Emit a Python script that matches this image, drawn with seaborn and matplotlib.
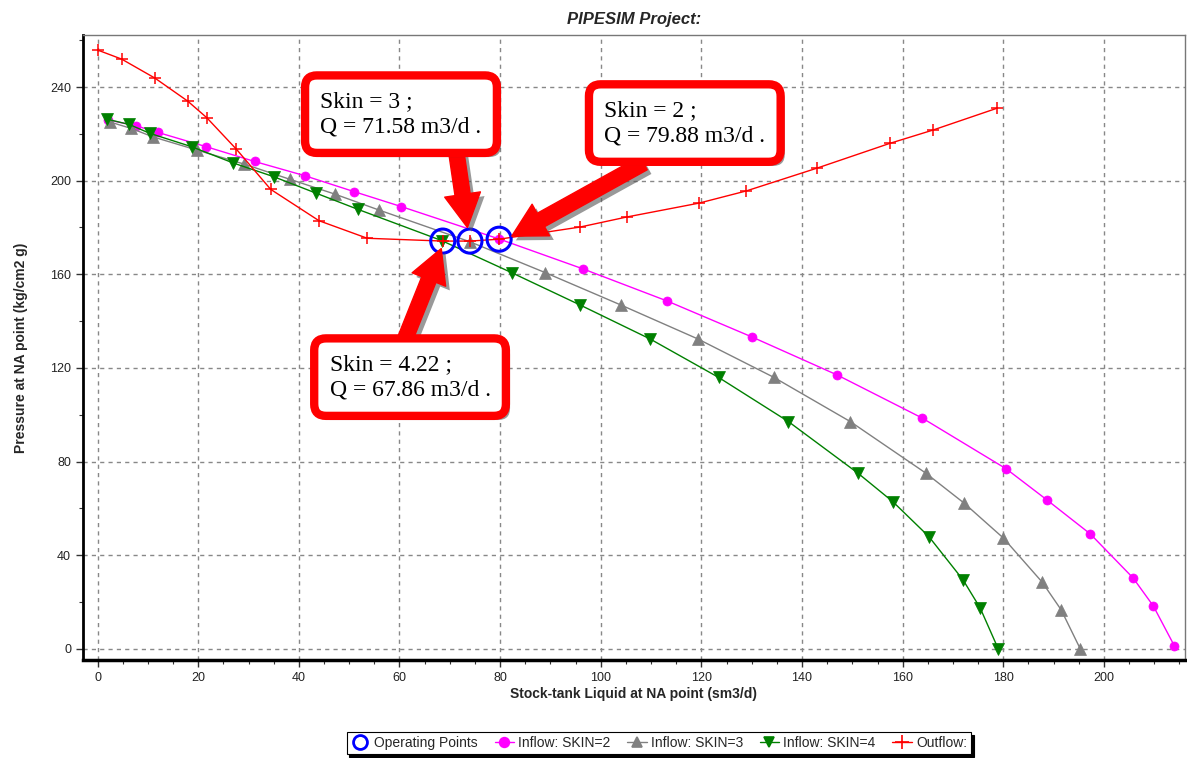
import matplotlib
matplotlib.use("Agg")
import matplotlib.pyplot as plt
import matplotlib.patheffects as pe
import pandas as pd
import seaborn as sns
from matplotlib.lines import Line2D
from matplotlib.ticker import MultipleLocator

# Inflow curves (stock-tank liquid sm3/d, pressure kg/cm2 g)
skin2_q = [2.0, 7.7, 12.0, 21.6, 31.2, 41.2, 51.0, 60.4, 79.8, 96.5, 113.2, 130.1,
           147.0, 163.9, 180.6, 188.7, 197.3, 205.8, 209.8, 214.0]
skin2_p = [226.0, 223.4, 220.6, 214.5, 208.2, 202.1, 195.3, 188.9, 175.1, 162.3, 148.6,
           133.2, 117.0, 98.6, 76.9, 63.6, 49.1, 30.3, 18.4, 1.3]

skin3_q = [2.4, 6.7, 11.0, 19.7, 29.1, 38.2, 47.1, 56.0, 74.0, 89.0, 104.0, 119.3,
           134.4, 149.6, 164.6, 172.2, 180.0, 187.7, 191.5, 195.3]
skin3_p = [225.1, 222.3, 218.7, 213.1, 207.1, 200.6, 194.3, 187.4, 173.9, 160.7, 146.9,
           132.4, 116.0, 97.1, 75.1, 62.3, 47.4, 28.6, 16.7, 0.0]

skin4_q = [1.8, 6.3, 10.4, 18.7, 26.9, 35.0, 43.5, 51.8, 68.4, 82.3, 95.9, 109.8,
           123.4, 137.3, 151.1, 158.1, 165.2, 172.0, 175.4, 179.0]
skin4_p = [226.3, 224.0, 220.2, 214.5, 207.6, 201.7, 194.6, 187.7, 174.4, 160.7, 146.9,
           132.4, 116.0, 97.1, 75.1, 62.8, 48.0, 29.5, 17.5, 0.0]

# Outflow curve
outflow_q = [0.0, 4.8, 11.4, 17.9, 21.7, 27.6, 34.4, 44.0, 53.6, 68.6, 74.0, 79.8,
             95.9, 105.2, 119.5, 128.9, 142.9, 157.4, 166.0, 178.7]
outflow_p = [255.8, 251.9, 243.8, 234.0, 226.9, 213.4, 196.3, 182.9, 175.4, 174.2, 174.2,
             175.0, 180.2, 184.5, 190.4, 195.6, 205.3, 215.9, 221.6, 230.9]

# Operating points
op_q = [68.6, 74.0, 79.8]
op_p = [174.2, 174.2, 175.0]

# Callouts: text, box centre, arrow tail, arrow head
callout_text = ["Skin = 3 ;\nQ = 71.58 m3/d .",
                "Skin = 2 ;\nQ = 79.88 m3/d .",
                "Skin = 4.22 ;\nQ = 67.86 m3/d ."]
callout_box = [(60.3, 228.4), (116.7, 224.6), (62.1, 116.1)]
callout_tail = [(71.1, 215.0), (108.5, 207.5), (60.3, 128.0)]
callout_head = [(73.5, 180.0), (82.3, 176.3), (68.3, 171.0)]

SERIES = [
    ("Inflow: SKIN=2", skin2_q, skin2_p, "#FF00FF", "o", 6.5),
    ("Inflow: SKIN=3", skin3_q, skin3_p, "#808080", "^", 8.5),
    ("Inflow: SKIN=4", skin4_q, skin4_p, "#008000", "v", 8.5),
    ("Outflow:", outflow_q, outflow_p, "#FF0000", "+", 9),
]


def draw_series(ax):
    for label, q, p, color, marker, size in SERIES:
        df = pd.DataFrame({"q": q, "p": p})
        sns.lineplot(data=df, x="q", y="p", sort=False, estimator=None, ax=ax,
                     color=color, linewidth=1.0, marker=marker, markersize=size,
                     markeredgecolor=color, markerfacecolor=color,
                     markeredgewidth=1.1 if marker == "+" else 0.5, zorder=3)

    op_df = pd.DataFrame({"q": op_q, "p": op_p})
    sns.scatterplot(data=op_df, x="q", y="p", ax=ax, s=300, marker="o",
                    facecolors="none", edgecolor="#0000FF", linewidth=2.2, zorder=4)


def draw_callouts(ax):
    shadow = [pe.withSimplePatchShadow(offset=(3, -3), shadow_rgbFace="#555555", alpha=0.6)]
    for text, box, tail, head in zip(callout_text, callout_box, callout_tail, callout_head):
        ax.annotate("", xy=head, xytext=tail, zorder=5,
                    arrowprops=dict(arrowstyle="simple,head_length=1.2,head_width=1.3,tail_width=0.55",
                                    fc="#FF0000", ec="#FF0000", mutation_scale=20,
                                    shrinkA=0, shrinkB=0, path_effects=shadow))
        t = ax.text(box[0], box[1], text, ha="center", va="center", multialignment="left",
                    family="Liberation Serif", fontsize=17, color="black", zorder=6,
                    linespacing=1.3,
                    bbox=dict(boxstyle="round,pad=0.65,rounding_size=0.5", fc="white",
                              ec="#FF0000", lw=6))
        t.get_bbox_patch().set_path_effects(shadow)


def main():
    sns.set_theme(style="whitegrid")
    plt.rcParams["font.family"] = ["Liberation Sans", "DejaVu Sans"]

    fig = plt.figure(figsize=(11.87, 7.58), dpi=100)
    ax = fig.add_axes([0.0699, 0.1293, 0.9284, 0.8245])

    draw_series(ax)

    ax.set_xlim(-2.9, 216.1)
    ax.set_ylim(-4.7, 262.2)
    ax.xaxis.set_major_locator(MultipleLocator(20))
    ax.xaxis.set_minor_locator(MultipleLocator(5))
    ax.yaxis.set_major_locator(MultipleLocator(40))
    ax.yaxis.set_minor_locator(MultipleLocator(20))
    ax.grid(True, which="major", color="#888888", linestyle=(0, (3, 3)), linewidth=1.0)
    ax.grid(False, which="minor")
    ax.tick_params(axis="both", which="major", direction="out", length=5, width=1,
                   color="#333333", labelsize=9, labelcolor="#222222", bottom=True, left=True)
    ax.tick_params(axis="both", which="minor", direction="out", length=3, width=0.8,
                   color="#333333", bottom=True, left=True)

    for side in ["left", "bottom"]:
        ax.spines[side].set_color("black")
    ax.spines["left"].set_linewidth(2)
    ax.spines["bottom"].set_linewidth(2.5)
    for side in ["top", "right"]:
        ax.spines[side].set_color("#777777")
        ax.spines[side].set_linewidth(1)

    ax.set_title("PIPESIM Project:", fontsize=12, fontweight="bold", style="italic", pad=8)
    ax.set_xlabel("Stock-tank Liquid at NA point (sm3/d)", fontsize=10, fontweight="bold", labelpad=2)
    ax.set_ylabel("Pressure at NA point (kg/cm2 g)", fontsize=10, fontweight="bold", labelpad=16)

    draw_callouts(ax)

    handles = [
        Line2D([], [], linestyle="none", marker="o", markersize=10, markerfacecolor="none",
               markeredgecolor="#0000FF", markeredgewidth=2, label="Operating Points"),
    ]
    for label, q, p, color, marker, size in SERIES:
        handles.append(Line2D([], [], color=color, linewidth=1, marker=marker,
                              markersize=7 if marker != "+" else 10, markerfacecolor=color,
                              markeredgecolor=color, markeredgewidth=1.2, label=label))
    leg = fig.legend(handles=handles, loc="center", bbox_to_anchor=(0.555, 0.0198), ncol=5,
                     fontsize=10, frameon=True, fancybox=False, edgecolor="black",
                     handlelength=1.4, handletextpad=0.3, columnspacing=1.2,
                     borderpad=0.3, shadow={"color": "black", "alpha": 1})
    leg.get_frame().set_linewidth(0.8)

    fig.savefig("out.png", dpi=100)
    plt.close(fig)


if __name__ == "__main__":
    main()
